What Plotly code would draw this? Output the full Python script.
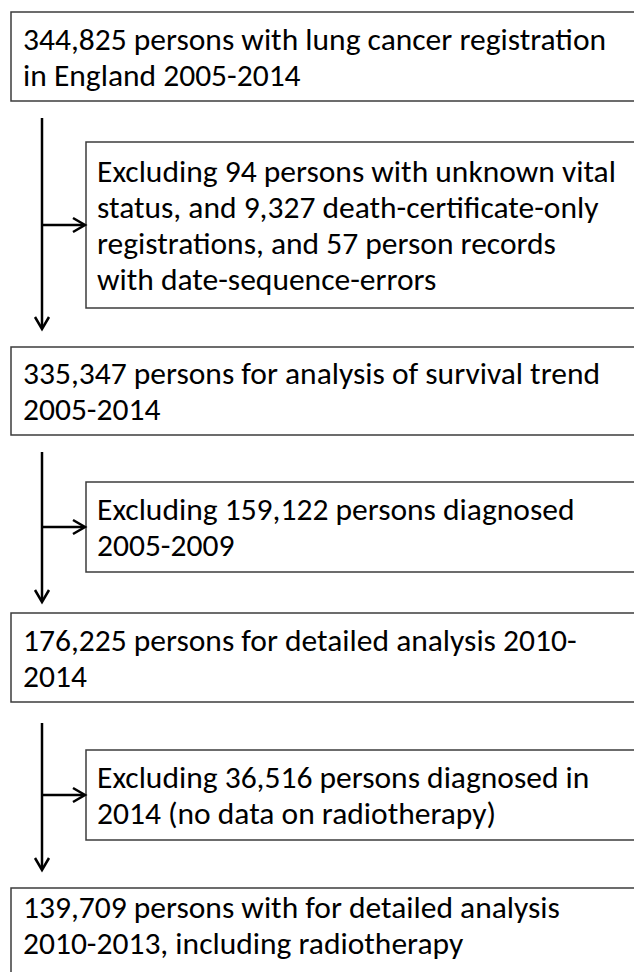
import plotly.graph_objects as go

# ---- content (flowchart text) ----
main_labels = [
    ["344,825 persons with lung cancer registration", "in England 2005-2014"],
    ["335,347 persons for analysis of survival trend", "2005-2014"],
    ["176,225 persons for detailed analysis 2010-", "2014"],
    ["139,709 persons with for detailed analysis", "2010-2013, including radiotherapy"],
]
exclusion_labels = [
    ["Excluding 94 persons with unknown vital",
     "status, and 9,327 death-certificate-only",
     "registrations, and 57 person records",
     "with date-sequence-errors"],
    ["Excluding 159,122 persons diagnosed", "2005-2009"],
    ["Excluding 36,516 persons diagnosed in", "2014 (no data on radiotherapy)"],
]

# ---- layout geometry (pixels, y downward) ----
W, H = 634, 972
main_box_x = (11, 660)
side_box_x = (86, 660)
main_box_y = [(12, 101), (347, 435), (613, 702), (888, 1010)]
side_box_y = [(142, 308), (482, 572), (750, 840)]
arrow_x = 42
arrow_y = [(118, 329), (452, 602), (723, 870)]
main_text_first = [38.5, 373, 639.5, 907]
line_gap = 36
text_pad_main = 21
text_pad_side = 95

FONT = "Carlito, Calibri, Lato, sans-serif"
FSIZE = 31.5
BORDER = "#3c3c3c"
ARROW = "#000000"

fig = go.Figure()
shapes = []
annotations = []

def rect(x0, x1, y0, y1):
    shapes.append(dict(type="rect", xref="x", yref="y", x0=x0, x1=x1, y0=y0, y1=y1,
                       line=dict(color=BORDER, width=1.5), fillcolor="white", layer="below"))

def line(x0, y0, x1, y1):
    shapes.append(dict(type="line", xref="x", yref="y", x0=x0, y0=y0, x1=x1, y1=y1,
                       line=dict(color=ARROW, width=2.5)))

def path(d):
    shapes.append(dict(type="path", xref="x", yref="y", path=d,
                       line=dict(color=ARROW, width=2.5)))

def text(x, y, s):
    annotations.append(dict(x=x, y=y, xref="x", yref="y", text=s, showarrow=False,
                            xanchor="left", yanchor="middle", align="left",
                            font=dict(family=FONT, size=FSIZE, color="#000000")))

# main boxes
for (y0, y1), lines_, ty in zip(main_box_y, main_labels, main_text_first):
    rect(main_box_x[0], main_box_x[1], y0, y1)
    for i, s in enumerate(lines_):
        text(text_pad_main, ty + i * line_gap, s)

# side boxes
for (y0, y1), lines_ in zip(side_box_y, exclusion_labels):
    rect(side_box_x[0], side_box_x[1], y0, y1)
    c = (y0 + y1) / 2
    n = len(lines_)
    for i, s in enumerate(lines_):
        text(text_pad_side, c + (i - (n - 1) / 2) * line_gap, s)

# arrows
hw, hl = 7, 12
for (ys, ye), (by0, by1) in zip(arrow_y, side_box_y):
    line(arrow_x, ys, arrow_x, ye - 1)
    path(f"M {arrow_x - hw},{ye - hl} L {arrow_x},{ye} L {arrow_x + hw},{ye - hl}")
    yb = (by0 + by1) / 2
    xe = side_box_x[0] - 1
    line(arrow_x, yb, xe - 1, yb)
    path(f"M {xe - hl},{yb - hw} L {xe},{yb} L {xe - hl},{yb + hw}")

fig.update_layout(
    width=W, height=H,
    margin=dict(l=0, r=0, t=0, b=0),
    paper_bgcolor="white", plot_bgcolor="white",
    xaxis=dict(range=[0, W], visible=False, fixedrange=True),
    yaxis=dict(range=[H, 0], visible=False, fixedrange=True),
    shapes=shapes, annotations=annotations, showlegend=False,
)
fig.write_html("out.html", config={"displayModeBar": False},
               post_script="document.body.style.margin='0';")
